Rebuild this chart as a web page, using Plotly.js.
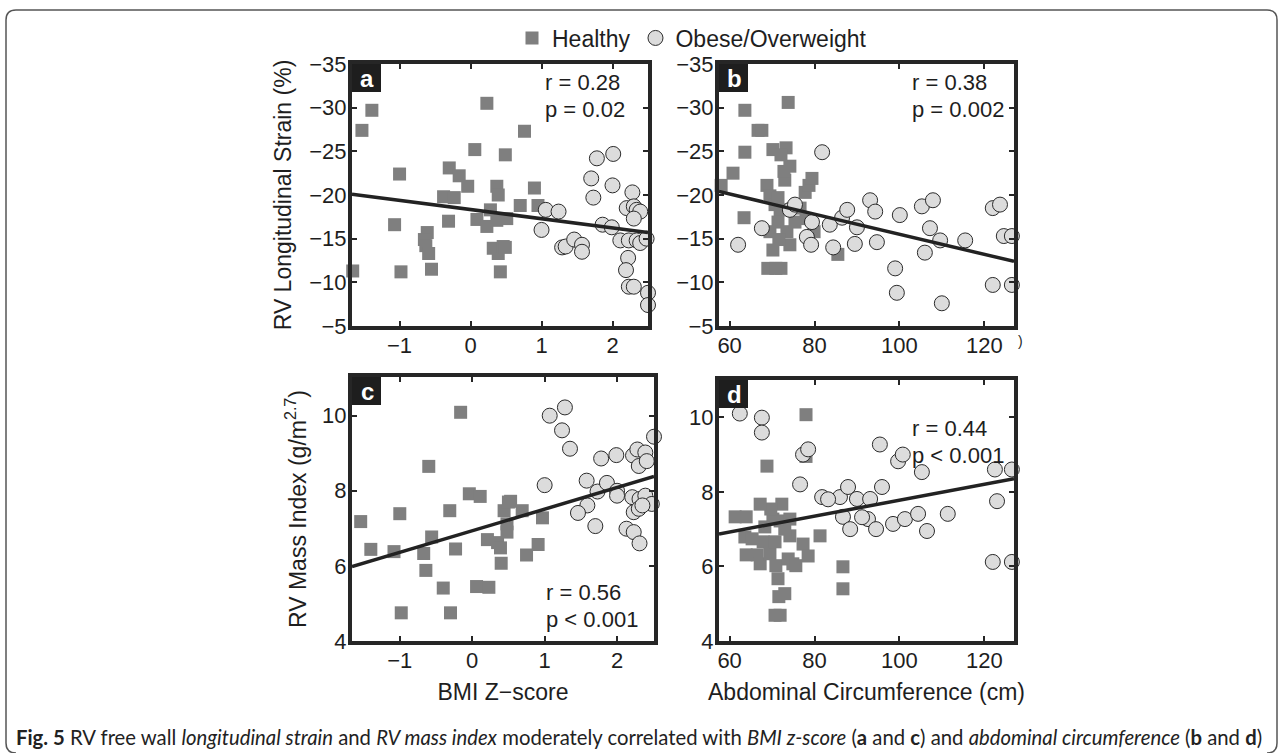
<!DOCTYPE html>
<html>
<head>
<meta charset="utf-8">
<script src="https://cdn.plot.ly/plotly-3.0.1.min.js"></script>
<style>
html,body{margin:0;padding:0;background:#fff;}
#chart{width:1284px;height:753px;}
</style>
</head>
<body>
<div id="chart"></div>
<script>
// ---------- DATA ----------
// Panel a: BMI Z-score vs RV longitudinal strain
const aHealthyX = [-1.66, -1.53, -1.39, -1.00, -1.07, -0.98, -0.61, -0.65, -0.63, -0.59, -0.55, -0.30, -0.16, -0.04, -0.38, -0.23, -0.31, 0.06, 0.23, 0.09, 0.23, 0.28, 0.37, 0.39, 0.37, 0.32, 0.39, 0.46, 0.42, 0.49, 0.76, 0.90, 0.70, 0.95, 0.51, 0.49];
const aHealthyY = [-11.3, -27.4, -29.7, -22.4, -16.6, -11.2, -15.7, -14.9, -14.2, -13.3, -11.5, -23.1, -22.2, -21.0, -19.8, -19.7, -17.0, -25.2, -30.5, -17.2, -16.4, -18.3, -21.0, -20.0, -17.1, -13.9, -13.3, -14.1, -11.2, -24.6, -27.3, -20.8, -18.8, -18.8, -17.3, -14.0];
const aObeseX = [1.06, 1.24, 1.00, 1.29, 1.34, 1.46, 1.57, 1.57, 1.78, 2.01, 1.70, 2.00, 1.73, 1.86, 1.99, 2.28, 2.20, 2.30, 2.34, 2.39, 2.30, 2.11, 2.23, 2.34, 2.39, 2.48, 2.53, 2.22, 2.19, 2.23, 2.30, 2.50, 2.50];
const aObeseY = [-18.3, -18.1, -16.0, -14.0, -14.1, -14.9, -14.3, -13.5, -24.2, -24.7, -21.9, -21.1, -19.7, -16.6, -16.3, -20.3, -18.5, -18.7, -18.3, -18.1, -17.3, -14.8, -14.8, -14.8, -14.5, -15.0, -15.2, -12.8, -11.4, -9.5, -9.5, -8.8, -7.4];
const aFitX = [-1.67, 2.5];
const aFitY = [-20.1, -15.7];

// Panel b: abdominal circumference vs RV longitudinal strain
const bHealthyX = [58.0, 60.8, 63.6, 63.6, 63.4, 66.7, 67.6, 73.8, 68.8, 69.5, 70.2, 70.7, 71.4, 71.9, 71.4, 73.0, 74.2, 73.5, 74.2, 70.2, 69.0, 70.9, 72.1, 75.4, 76.6, 77.8, 78.7, 79.4, 79.9, 85.5, 73.3, 78.0, 69.5, 71.6, 72.1, 72.8];
const bHealthyY = [-21.1, -22.5, -29.7, -24.9, -17.4, -27.4, -27.4, -30.6, -21.1, -19.9, -25.2, -18.9, -19.7, -18.3, -16.9, -21.7, -23.3, -15.8, -14.3, -13.7, -11.6, -11.6, -11.6, -16.9, -18.5, -20.3, -21.1, -21.9, -15.8, -13.2, -25.4, -17.3, -15.8, -14.9, -24.6, -22.7];
const bObeseX = [62.0, 67.6, 74.2, 75.4, 81.8, 78.2, 79.2, 79.4, 83.6, 84.4, 86.5, 87.7, 90.0, 89.5, 93.1, 94.3, 94.7, 99.0, 99.4, 100.1, 105.3, 106.0, 107.2, 107.9, 109.6, 110.0, 115.5, 122.0, 123.7, 122.0, 124.6, 126.5, 126.5];
const bObeseY = [-14.3, -16.2, -18.3, -18.9, -24.9, -15.2, -14.3, -16.9, -16.6, -14.0, -17.4, -18.3, -16.3, -14.4, -19.4, -18.1, -14.6, -11.6, -8.8, -17.7, -18.7, -13.4, -16.2, -19.4, -14.8, -7.6, -14.8, -18.5, -18.9, -9.7, -15.3, -15.3, -9.7];
const bFitX = [57.5, 127];
const bFitY = [-20.4, -12.4];

// Panel c: BMI Z-score vs RV mass index
const cHealthyX = [-1.54, -1.40, -1.00, -1.08, -0.98, -0.60, -0.56, -0.67, -0.64, -0.31, -0.23, -0.40, -0.30, -0.16, -0.04, 0.11, 0.06, 0.23, 0.21, 0.35, 0.39, 0.40, 0.44, 0.50, 0.53, 0.69, 0.97, 0.48, 0.48, 0.91, 0.75];
const cHealthyY = [7.18, 6.44, 7.39, 6.38, 4.75, 8.65, 6.77, 6.33, 5.88, 7.47, 6.45, 5.41, 4.75, 10.09, 7.92, 7.85, 5.45, 5.43, 6.70, 6.62, 6.48, 6.07, 7.47, 7.70, 7.72, 7.47, 7.28, 7.12, 6.90, 6.57, 6.29];
const cObeseX = [1.07, 1.28, 1.24, 1.35, 1.00, 1.58, 1.73, 1.86, 2.00, 2.00, 1.59, 1.46, 1.70, 1.78, 1.99, 2.22, 2.28, 2.39, 2.30, 2.41, 2.52, 2.51, 2.21, 2.31, 2.39, 2.48, 2.23, 2.30, 2.35, 2.13, 2.23, 2.31];
const cObeseY = [10.00, 10.22, 9.61, 9.12, 8.15, 8.27, 7.98, 8.21, 8.00, 7.87, 7.61, 7.41, 7.06, 8.86, 8.95, 8.94, 9.10, 9.02, 8.66, 8.79, 8.68, 9.44, 7.83, 7.78, 7.87, 7.65, 7.43, 7.52, 7.61, 6.99, 6.90, 6.60];
const cFitX = [-1.66, 2.51];
const cFitY = [5.98, 8.38];

// Panel d: abdominal circumference vs RV mass index
const dHealthyX = [61.3, 63.9, 63.6, 63.9, 66.5, 67.2, 67.9, 68.3, 68.8, 69.5, 70.2, 70.7, 70.9, 71.4, 71.6, 70.7, 71.9, 72.3, 71.9, 73.8, 74.2, 74.9, 73.0, 75.6, 77.3, 78.5, 78.0, 78.0, 86.7, 86.7, 81.3, 65.3, 69.7, 73.0, 67.2, 74.2];
const dHealthyY = [7.33, 7.33, 6.79, 6.31, 6.31, 6.07, 6.66, 7.06, 8.69, 6.34, 7.27, 6.66, 6.02, 5.67, 5.19, 4.69, 4.69, 7.67, 7.22, 6.20, 6.82, 6.07, 5.27, 6.02, 6.60, 6.28, 10.07, 8.95, 5.99, 5.40, 6.82, 6.74, 7.54, 7.00, 7.67, 7.27];
const dObeseX = [62.4, 67.6, 67.6, 77.3, 78.5, 76.6, 81.8, 86.0, 87.9, 86.7, 88.4, 90.0, 92.6, 93.1, 94.5, 95.9, 98.5, 99.7, 100.8, 101.3, 104.4, 105.3, 106.5, 95.4, 111.4, 122.5, 123.0, 122.0, 126.5, 126.5, 83.2, 91.2];
const dObeseY = [10.10, 9.99, 9.59, 9.00, 9.14, 8.20, 7.86, 7.86, 8.13, 7.33, 7.00, 7.81, 7.27, 7.81, 7.00, 8.13, 7.14, 8.82, 9.00, 7.27, 7.41, 8.53, 6.95, 9.27, 7.41, 8.60, 7.75, 6.12, 8.60, 6.12, 7.80, 7.32];
const dFitX = [57.5, 127];
const dFitY = [6.87, 8.35];

// Tick values / labels
const bmiTicks = [-1, 0, 1, 2];
const waistTicks = [60, 80, 100, 120];
const strainTicks = [-35, -30, -25, -20, -15, -10, -5];
const massTicks = [4, 6, 8, 10];
const panelLetters = ['a', 'b', 'c', 'd'];
const statLines = [['r = 0.28', 'p = 0.02'], ['r = 0.38', 'p = 0.002'], ['r = 0.56', 'p < 0.001'], ['r = 0.44', 'p < 0.001']];
const seriesNames = ['Healthy', 'Obese/Overweight'];

// ---------- STYLE ----------
const W = 1284, H = 753;
const px = x => x / W;
const py = y => 1 - y / H;
const FONT = 'Liberation Sans, Arial, Helvetica, sans-serif';
const INK = '#1e1e1e';
const sqStyle = {symbol: 'square', size: 13, color: '#7f7f7f', line: {width: 0}};
const ciStyle = {symbol: 'circle', size: 15, color: '#dcdcdc', line: {width: 1, color: '#2b2b2b'}};

const panels = [
  {xa: 'x', ya: 'y', hx: aHealthyX, hy: aHealthyY, ox: aObeseX, oy: aObeseY, fx: aFitX, fy: aFitY},
  {xa: 'x2', ya: 'y2', hx: bHealthyX, hy: bHealthyY, ox: bObeseX, oy: bObeseY, fx: bFitX, fy: bFitY},
  {xa: 'x3', ya: 'y3', hx: cHealthyX, hy: cHealthyY, ox: cObeseX, oy: cObeseY, fx: cFitX, fy: cFitY},
  {xa: 'x4', ya: 'y4', hx: dHealthyX, hy: dHealthyY, ox: dObeseX, oy: dObeseY, fx: dFitX, fy: dFitY}
];

const traces = [];
panels.forEach((p, i) => {
  traces.push({type: 'scatter', mode: 'markers', x: p.hx, y: p.hy, xaxis: p.xa, yaxis: p.ya,
    name: seriesNames[0], legendgroup: 'h', showlegend: i === 0, marker: sqStyle, cliponaxis: false, hoverinfo: 'x+y'});
  traces.push({type: 'scatter', mode: 'markers', x: p.ox, y: p.oy, xaxis: p.xa, yaxis: p.ya,
    name: seriesNames[1], legendgroup: 'o', showlegend: i === 0, marker: ciStyle, cliponaxis: false, hoverinfo: 'x+y'});
  traces.push({type: 'scatter', mode: 'lines', x: p.fx, y: p.fy, xaxis: p.xa, yaxis: p.ya,
    showlegend: false, line: {color: '#222', width: 3.5}, hoverinfo: 'skip'});
});

function axisBase(extra) {
  return Object.assign({
    showline: true, linewidth: 4, linecolor: '#262626', mirror: 'ticks',
    ticks: 'inside', ticklen: 5, tickwidth: 2, tickcolor: '#262626',
    showgrid: false, zeroline: false, fixedrange: true,
    ticklabelstandoff: -3,
    tickfont: {family: FONT, size: 22, color: INK}
  }, extra);
}
const titleFont = {family: FONT, size: 23, color: INK};

const domA_x = [px(352), px(648)], domB_x = [px(719), px(1014)];
const domC_x = [px(352), px(654)], domD_x = [px(719), px(1014)];
const domTop_y = [py(326), py(64)];
const domC_y = [py(641), py(377)], domD_y = [py(641), py(380)];

const layout = {
  width: W, height: H,
  margin: {l: 0, r: 0, t: 0, b: 0},
  paper_bgcolor: '#fff', plot_bgcolor: '#fff',
  font: {family: FONT, color: INK},
  showlegend: true,
  legend: {orientation: 'h', x: px(512), xanchor: 'left', y: py(38), yanchor: 'middle',
    font: {family: FONT, size: 23, color: INK}, bgcolor: 'rgba(0,0,0,0)', itemwidth: 30, traceorder: 'normal'},
  xaxis: axisBase({domain: domA_x, range: [-1.67, 2.5], tickvals: bmiTicks, anchor: 'y'}),
  yaxis: axisBase({domain: domTop_y, range: [-5, -35], tickvals: strainTicks, anchor: 'x',
    title: {text: 'RV Longitudinal Strain (%)', font: titleFont, standoff: 12}}),
  xaxis2: axisBase({domain: domB_x, range: [57.5, 127], tickvals: waistTicks, anchor: 'y2'}),
  yaxis2: axisBase({domain: domTop_y, range: [-5, -35], tickvals: strainTicks, anchor: 'x2'}),
  xaxis3: axisBase({domain: domC_x, range: [-1.66, 2.51], tickvals: bmiTicks, anchor: 'y3',
    title: {text: 'BMI Z\u2212score', font: titleFont, standoff: 12}}),
  yaxis3: axisBase({domain: domC_y, range: [4, 11.03], tickvals: massTicks, anchor: 'x3',
    title: {text: 'RV Mass Index (g/m<sup>2.7</sup>)', font: titleFont, standoff: 10}}),
  xaxis4: axisBase({domain: domD_x, range: [57.5, 127], tickvals: waistTicks, anchor: 'y4',
    title: {text: 'Abdominal Circumference (cm)', font: titleFont, standoff: 12}}),
  yaxis4: axisBase({domain: domD_y, range: [4, 11.0], tickvals: massTicks, anchor: 'x4'}),
  shapes: [],
  annotations: []
};

// panel letter boxes
const letterBoxes = [[352, 64], [719, 64], [352, 377], [719, 380]];
letterBoxes.forEach((b, i) => {
  layout.shapes.push({type: 'rect', xref: 'paper', yref: 'paper',
    x0: px(b[0]), x1: px(b[0] + 29), y0: py(b[1] + 28), y1: py(b[1]),
    fillcolor: '#1e1e1e', line: {width: 0}});
  layout.annotations.push({xref: 'paper', yref: 'paper', x: px(b[0] + 15), y: py(b[1] + 14),
    text: '<b>' + panelLetters[i] + '</b>', showarrow: false, xanchor: 'center', yanchor: 'middle',
    font: {family: FONT, size: 24, color: '#fff'}});
});

// r / p statistics
const statPos = [[543, 82, 110], [910, 82, 110], [544, 592, 619], [910, 428, 455]];
statPos.forEach((s, i) => {
  layout.annotations.push({xref: 'paper', yref: 'paper', x: px(s[0]), y: py(s[1]), text: statLines[i][0],
    showarrow: false, xanchor: 'left', yanchor: 'middle', font: {family: FONT, size: 22, color: INK}});
  layout.annotations.push({xref: 'paper', yref: 'paper', x: px(s[0]), y: py(s[2]), text: statLines[i][1],
    showarrow: false, xanchor: 'left', yanchor: 'middle', font: {family: FONT, size: 22, color: INK}});
});

// stray bracket from the source figure
layout.annotations.push({xref: 'paper', yref: 'paper', x: px(1021), y: py(341), text: ')',
  showarrow: false, xanchor: 'center', yanchor: 'middle', font: {family: FONT, size: 14, color: INK}});

// caption
layout.annotations.push({xref: 'paper', yref: 'paper', x: px(14), y: py(737), xanchor: 'left', yanchor: 'middle',
  showarrow: false,
  text: '<b>Fig. 5</b> RV free wall <i>longitudinal strain</i> and <i>RV mass index</i> moderately correlated with <i>BMI z-score</i> (<b>a</b> and <b>c</b>) and <i>abdominal circumference</i> (<b>b</b> and <b>d</b>)',
  font: {family: 'Lato, Liberation Sans, sans-serif', size: 20.3, color: '#222'}});

// rounded frame
layout.shapes.push({type: 'path', xref: 'paper', yref: 'paper',
  path: 'M ' + px(16) + ',' + py(753) + ' Q ' + px(6) + ',' + py(753) + ' ' + px(6) + ',' + py(743) +
        ' L ' + px(6) + ',' + py(20) + ' Q ' + px(6) + ',' + py(10) + ' ' + px(16) + ',' + py(10) +
        ' L ' + px(1267) + ',' + py(10) + ' Q ' + px(1277) + ',' + py(10) + ' ' + px(1277) + ',' + py(20) +
        ' L ' + px(1277) + ',' + py(743) + ' Q ' + px(1277) + ',' + py(753) + ' ' + px(1267) + ',' + py(753),
  line: {color: '#555', width: 1.5}});

Plotly.newPlot('chart', traces, layout, {staticPlot: true, displayModeBar: false});
</script>
</body>
</html>
